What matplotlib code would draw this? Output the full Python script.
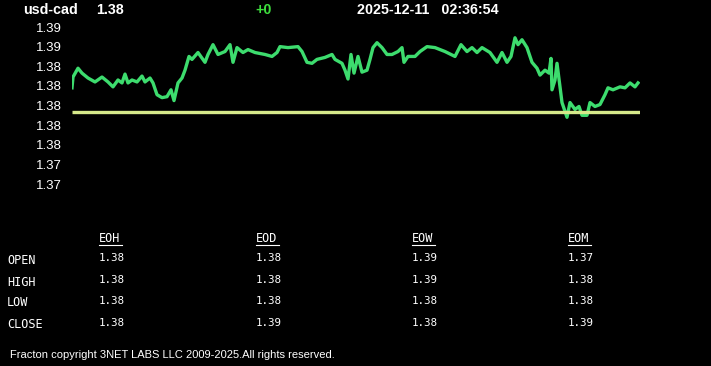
import matplotlib
matplotlib.use("Agg")
import matplotlib.pyplot as plt
from matplotlib.lines import Line2D

# ---- data ----
symbol = "usd-cad"
last_price = "1.38"
change = "+0"
stamp = "2025-12-11   02:36:54"

# minutes since start of the window, and price
minutes = [0, 1, 6, 10, 16, 23, 30, 36, 41, 46, 50, 53, 56, 60, 65, 70, 73, 78, 81,
           85, 90, 95, 99, 102, 106, 110, 113, 117, 120, 126, 133, 136, 141, 146, 153,
           158, 161, 165, 171, 176, 183, 193, 200, 205, 208, 216, 226, 230, 235, 240,
           245, 253, 260, 263, 270, 273, 276, 279, 282, 286, 290, 295, 298, 301, 305,
           310, 315, 320, 326, 330, 332, 336, 343, 348, 355, 363, 373, 383, 389, 395,
           400, 405, 410, 418, 425, 430, 435, 439, 443, 446, 450, 455, 460, 465, 468,
           473, 477, 479, 480, 483, 485, 488, 490, 495, 498, 503, 507, 510, 515, 518,
           523, 528, 533, 536, 541, 548, 553, 558, 563, 566]
prices = [1.3808, 1.3819, 1.3828, 1.3823, 1.3818, 1.3814, 1.3819, 1.3814, 1.3809,
          1.3816, 1.3813, 1.3822, 1.3813, 1.3816, 1.3814, 1.3820, 1.3814, 1.3818,
          1.3813, 1.3801, 1.3798, 1.3799, 1.3806, 1.3795, 1.3813, 1.3818, 1.3826,
          1.3840, 1.3837, 1.3844, 1.3834, 1.3842, 1.3852, 1.3842, 1.3845, 1.3852,
          1.3834, 1.3849, 1.3844, 1.3847, 1.3844, 1.3842, 1.3840, 1.3844, 1.3850,
          1.3849, 1.3850, 1.3845, 1.3834, 1.3833, 1.3837, 1.3839, 1.3842, 1.3837,
          1.3833, 1.3826, 1.3817, 1.3842, 1.3823, 1.3840, 1.3824, 1.3826, 1.3837,
          1.3849, 1.3854, 1.3849, 1.3842, 1.3842, 1.3845, 1.3849, 1.3834, 1.3840,
          1.3840, 1.3845, 1.3850, 1.3849, 1.3845, 1.3840, 1.3852, 1.3845, 1.3849,
          1.3844, 1.3849, 1.3844, 1.3834, 1.3844, 1.3834, 1.3840, 1.3859, 1.3852,
          1.3857, 1.3849, 1.3834, 1.3828, 1.3821, 1.3826, 1.3823, 1.3838, 1.3806,
          1.3816, 1.3833, 1.3809, 1.3793, 1.3778, 1.3793, 1.3786, 1.3789, 1.3780,
          1.3780, 1.3793, 1.3789, 1.3791, 1.3801, 1.3808, 1.3806, 1.3809, 1.3808,
          1.3813, 1.3809, 1.3813]
ref_price = 1.3783

ytick_vals = [1.371, 1.373, 1.375, 1.377, 1.379, 1.381, 1.383, 1.385, 1.387]
ytick_labels = ["1.37", "1.37", "1.38", "1.38", "1.38", "1.38", "1.38", "1.39", "1.39"]

periods = ["EOH", "EOD", "EOW", "EOM"]
row_names = ["OPEN", "HIGH", "LOW", "CLOSE"]
table = {
    "EOH": ["1.38", "1.38", "1.38", "1.38"],
    "EOD": ["1.38", "1.38", "1.38", "1.39"],
    "EOW": ["1.39", "1.39", "1.38", "1.38"],
    "EOM": ["1.37", "1.38", "1.38", "1.39"],
}

W, H = 711, 366
fig = plt.figure(figsize=(W / 100, H / 100), dpi=100, facecolor="black")
sans = "Liberation Sans"
mono = "DejaVu Sans Mono"

ax = fig.add_axes([72 / W, 1 - 184 / H, 568 / W, 157 / H])
ax.set_facecolor("black")
ax.plot(minutes, prices, color="#3ddc6e", lw=2.4, solid_joinstyle="round")
ax.hlines(ref_price, 0, 568, color="#d6e88a", lw=2.4)
ax.set_xlim(0, 568)
ax.set_ylim(1.371, 1.387)
ax.set_yticks(ytick_vals)
ax.set_yticklabels(ytick_labels, color="white", fontsize=9.5, family=sans)
ax.tick_params(axis="y", length=0, pad=7.5)
ax.set_xticks([])
for s in ax.spines.values():
    s.set_visible(False)

# header
def px(x, y):
    return x / W, 1 - y / H

hdr = dict(color="white", fontsize=10.3, fontweight="bold", family=sans, va="center")
fig.text(*px(23, 9.5), symbol, **hdr)
fig.text(*px(96, 9.5), last_price, **hdr)
fig.text(*px(255, 9.5), change, **{**hdr, "color": "#3ddc3d"})
fig.text(*px(357, 9.5), stamp, **hdr)

# OHLC table
col_x = [99, 256, 412, 568]
row_y = [258, 280, 301, 323]
cell = dict(color="white", fontsize=7.8, family=mono, va="center")
label = dict(color="white", fontsize=8.6, family=mono, va="center")
for cx, p in zip(col_x, periods):
    fig.text(*px(cx, 238.5), p, **label)
    fig.add_artist(Line2D([cx / W, (cx + 23) / W], [1 - 244.5 / H, 1 - 244.5 / H],
                          color="white", lw=0.8, transform=fig.transFigure))
for ry, name in zip(row_y, row_names):
    fig.text(*px(7, ry + 2), name, **label)
for cx, p in zip(col_x, periods):
    for ry, val in zip(row_y, table[p]):
        fig.text(*px(cx, ry), val, **cell)

fig.text(*px(10, 355), "Fracton copyright 3NET LABS LLC 2009-2025.All rights reserved.",
         color="white", fontsize=8, family=sans, va="center")

fig.savefig("out.png", dpi=100, facecolor="black")
